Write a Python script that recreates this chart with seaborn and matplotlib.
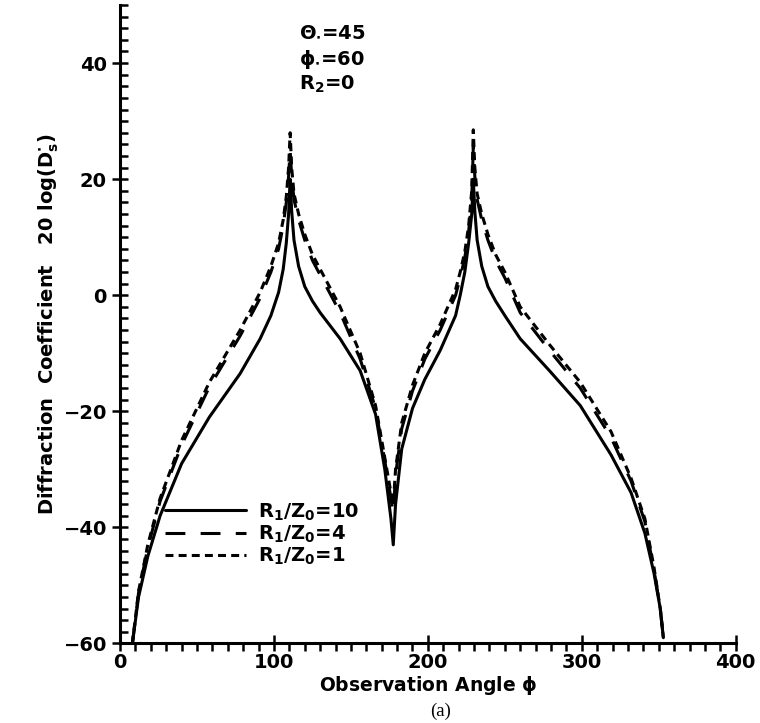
import matplotlib
matplotlib.use("Agg")
import matplotlib.pyplot as plt
import seaborn as sns
import pandas as pd
from matplotlib.ticker import MultipleLocator

# Observation angle (deg)
phi = [8, 12, 18, 26, 40, 58, 78, 91, 98, 103, 106, 108, 109.5, 110.5, 111.5, 113, 116,
       120, 125, 130, 143, 156, 166, 172, 176, 177.5, 179, 183, 190, 198, 208, 218, 221,
       224, 226.5, 228.5, 229.5, 230.5, 232, 235, 239, 244, 250, 260, 279, 299, 319,
       332, 341, 347, 351, 353]

# R1/Z0 = 10 (solid)
d_r10 = [-60, -52, -45, -38, -29, -21, -13.5, -7.5, -3.5, 0.5, 4.5, 9, 14, 20, 14.5,
         9.5, 5, 1.5, -1, -3, -7.5, -13, -20.5, -30, -38.5, -43, -36, -26.5, -19.5,
         -14.5, -9.5, -3.5, 0, 4, 9, 14, 20, 14.5, 9.5, 5, 1.5, -1, -3.5, -7.5, -13,
         -19, -27.5, -34, -41, -48, -54, -59]

# R1/Z0 = 4 (long dash)
d_r4 = [-60, -51.3, -43.5, -35.5, -25.8, -15.8, -7, -0.5, 4, 8, 12, 16, 20.5, 25, 20.5,
        16.5, 13, 9.5, 6, 3.5, -3, -11, -19.5, -28.5, -35, -37.5, -31, -23, -16.5, -11,
        -6, 0, 3, 6.5, 11, 16.5, 25.5, 20.5, 16.5, 13, 9.5, 6, 3, -3, -9.5, -16, -24.5,
        -32, -39, -47.5, -54, -59]

# R1/Z0 = 1 (short dash)
d_r1 = [-60, -51, -43, -35, -25, -15, -6, 0.5, 5, 9, 13, 17, 22, 28, 22, 17.5, 14,
        10.5, 7, 4.5, -2, -10, -19, -28, -34, -36, -30, -22, -15.5, -10, -5, 1, 4, 7.5,
        12, 18, 28.5, 22, 17.5, 14, 10.5, 7, 4, -2, -8.5, -15, -23.5, -31.5, -38.5, -47,
        -54, -59]

labels = [r'R$_1$/Z$_0$=10', r'R$_1$/Z$_0$=4', r'R$_1$/Z$_0$=1']
x_ticks = [0, 100, 200, 300, 400]
y_ticks = [-60, -40, -20, 0, 20, 40]

sns.set_style("ticks")
plt.rcParams['font.family'] = ['DejaVu Sans']
plt.rcParams['font.weight'] = 'bold'
plt.rcParams['mathtext.default'] = 'bf'
for k in ['text.color', 'axes.labelcolor', 'xtick.color', 'ytick.color', 'axes.edgecolor']:
    plt.rcParams[k] = 'black'

fig = plt.figure(figsize=(7.6, 7.23), dpi=100)
ax = fig.add_axes([0.158, 0.11, 0.81, 0.883])

styles = ['-', (0, (6.5, 5)), (0, (2.6, 1.7))]
for ys, lab, ls in zip([d_r10, d_r4, d_r1], labels, styles):
    df = pd.DataFrame({'phi': phi, 'D': ys})
    sns.lineplot(data=df, x='phi', y='D', ax=ax, color='black', linewidth=2.2,
                 linestyle=ls, label=lab, sort=False, estimator=None)

ax.set_xlim(0, 400)
ax.set_ylim(-60, 50)
ax.set_xticks(x_ticks)
ax.set_yticks(y_ticks)
ax.xaxis.set_minor_locator(MultipleLocator(10))
ax.yaxis.set_minor_locator(MultipleLocator(2))
ax.tick_params(axis='y', which='minor', direction='in', length=6, width=1.8)
ax.tick_params(axis='y', which='major', direction='inout', length=12, width=1.8)
ax.tick_params(axis='x', which='minor', direction='out', length=6, width=1.8)
ax.tick_params(axis='x', which='major', direction='inout', length=12, width=1.8, pad=1)
ax.tick_params(labelsize=14)
for lab in ax.get_xticklabels() + ax.get_yticklabels():
    lab.set_fontweight('bold')

for s in ['top', 'right']:
    ax.spines[s].set_visible(False)
for s in ['left', 'bottom']:
    ax.spines[s].set_linewidth(2.2)

ax.set_xlabel(r'Observation Angle $\phi$', fontsize=13.5, fontweight='bold', labelpad=1)
ax.set_ylabel(r'Diffraction  Coefficient   20 log(D$_s^{\bullet}$)', fontsize=14,
              fontweight='bold', labelpad=2)

ax.text(0.29, 0.975, r'$\Theta_{\bullet}$=45', transform=ax.transAxes, fontsize=14,
        fontweight='bold', va='top', ha='left')
ax.text(0.29, 0.932, r'$\phi_{\bullet}$=60', transform=ax.transAxes, fontsize=14,
        fontweight='bold', va='top', ha='left')
ax.text(0.29, 0.892, r'R$_2$=0', transform=ax.transAxes, fontsize=14,
        fontweight='bold', va='top', ha='left')

leg = ax.legend(loc='upper left', bbox_to_anchor=(0.06, 0.235), frameon=False,
                fontsize=14, handlelength=4.2, labelspacing=0.05, handletextpad=0.6,
                borderaxespad=0)
for t in leg.get_texts():
    t.set_fontweight('bold')

fig.text(0.58, 0.004, '(a)', fontsize=13.5, family='Liberation Serif', ha='center',
         va='bottom', fontweight='normal')

fig.savefig('out.png', dpi=100)
